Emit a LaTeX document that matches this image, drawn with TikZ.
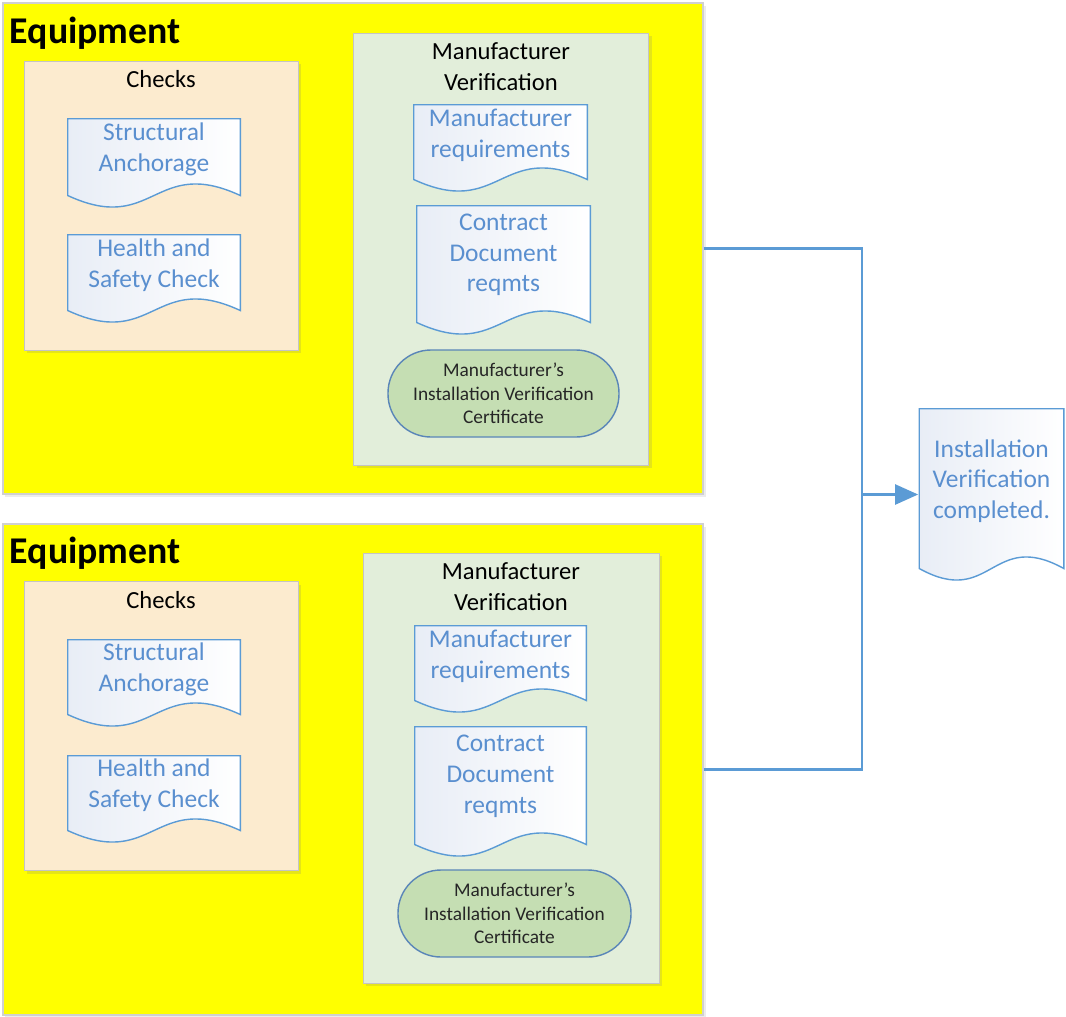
\documentclass[tikz,border=0pt]{standalone}
\usepackage{fontspec}
\setmainfont{Carlito}
\usepackage{tikz}
\usetikzlibrary{positioning, arrows.meta, calc, shadows}

\definecolor{eqyellow}{HTML}{FFFF00}
\definecolor{eqborder}{HTML}{D0D0D0}
\definecolor{boxborder}{HTML}{C4C4C4}
\definecolor{chkfill}{HTML}{FCEBCF}
\definecolor{mvfill}{HTML}{E2EEDA}
\definecolor{docblue}{HTML}{5B9BD5}
\definecolor{docink}{HTML}{5A8FCF}
\definecolor{docshade}{HTML}{E8EDF6}
\definecolor{certfill}{HTML}{C5DEB3}
\definecolor{certline}{HTML}{5A86B8}
\definecolor{connblue}{HTML}{5B9BD5}

\begin{document}
\begin{tikzpicture}[
    group/.style={rectangle, draw=eqborder, line width=0.6pt, fill=eqyellow, minimum width=14cm, minimum height=9.82cm, inner sep=0pt,
        drop shadow={opacity=0.15, shadow xshift=0.05cm, shadow yshift=-0.05cm}},
    panel/.style={rectangle, draw=boxborder, line width=0.5pt, fill=#1, inner sep=0pt,
        drop shadow={opacity=0.2, shadow xshift=0.06cm, shadow yshift=-0.06cm}},
    title/.style={font=\fontsize{21.5}{25}\selectfont\bfseries, inner sep=0pt, anchor=base west},
    head/.style={font=\fontsize{14}{17.5}\selectfont, align=center, inner sep=0pt},
    docshape/.style n args={2}{rectangle, minimum width=#1, minimum height=#2, inner sep=0pt,
        path picture={
            \path[left color=docshade, right color=white, draw=docblue, line width=0.8pt]
                ([shift={(0.4pt,-0.4pt)}]path picture bounding box.north west)
                -- ([shift={(-0.4pt,-0.4pt)}]path picture bounding box.north east)
                -- ([shift={(-0.4pt,0.25cm)}]path picture bounding box.south east)
                .. controls ([yshift=1.05cm]path picture bounding box.south)
                and ([yshift=-0.55cm]path picture bounding box.south) ..
                ([shift={(0.4pt,0.25cm)}]path picture bounding box.south west) -- cycle;
        }},
    doctext/.style={font=\fontsize{14.5}{17.5}\selectfont, text=docink, align=center, inner sep=0pt},
    cert/.style={rectangle, rounded corners=0.86cm, draw=certline, line width=0.8pt, fill=certfill,
        minimum width=4.62cm, minimum height=1.74cm, inner sep=0pt,
        font=\fontsize{11}{13.5}\selectfont, align=center, text=black!85},
    conn/.style={draw=connblue, line width=1.3pt},
    arr/.style={conn, -{Triangle[length=0.46cm, width=0.4cm]}},
]

\path[use as bounding box, fill=white] (0,0) rectangle (21.32,-20.34);

% Upper equipment group
\node[group] (eqA) at (7.06, -4.97) {};
\node[title] (eqAtitle) at (0.19, -0.86) {Equipment};

% Checks
\node[panel=chkfill, minimum width=5.48cm, minimum height=5.78cm] (chkA) at (3.22, -4.11) {};
\node[head, below=0.2cm of chkA.north] (chkAhead) {Checks};
\node[docshape={3.48cm}{1.8cm}] (structA) at (3.08, -3.26) {};
\node[doctext] (structAtxt) at ([yshift=0.27cm]structA.center) {Structural\\Anchorage};
\node[docshape={3.48cm}{1.78cm}] (healthA) at (3.08, -5.57) {};
\node[doctext] (healthAtxt) at ([yshift=0.27cm]healthA.center) {Health and\\Safety Check};

% Manufacturer verification
\node[panel=mvfill, minimum width=5.9cm, minimum height=8.64cm] (mvA) at (10.02, -4.98) {};
\node[head, below=0.2cm of mvA.north] (mvAhead) {Manufacturer\\Verification};
\node[docshape={3.5cm}{1.76cm}] (mreqA) at (10.01, -2.96) {};
\node[doctext] (mreqAtxt) at ([yshift=0.26cm]mreqA.center) {Manufacturer\\requirements};
\node[docshape={3.5cm}{2.6cm}] (contractA) at (10.07, -5.4) {};
\node[doctext] (contractAtxt) at ([yshift=0.3cm]contractA.center) {Contract\\Document\\reqmts};
\node[cert] (certA) at (10.07, -7.87) {Manufacturer's\\Installation Verification\\Certificate};

% Lower equipment group
\node[group] (eqB) at (7.06, -15.39) {};
\node[title] (eqBtitle) at (0.19, -11.26) {Equipment};

% Checks
\node[panel=chkfill, minimum width=5.48cm, minimum height=5.78cm] (chkB) at (3.22, -14.52) {};
\node[head, below=0.2cm of chkB.north] (chkBhead) {Checks};
\node[docshape={3.48cm}{1.76cm}] (structB) at (3.08, -13.66) {};
\node[doctext] (structBtxt) at ([yshift=0.27cm]structB.center) {Structural\\Anchorage};
\node[docshape={3.48cm}{1.76cm}] (healthB) at (3.08, -15.98) {};
\node[doctext] (healthBtxt) at ([yshift=0.27cm]healthB.center) {Health and\\Safety Check};

% Manufacturer verification
\node[panel=mvfill, minimum width=5.92cm, minimum height=8.6cm] (mvB) at (10.22, -15.36) {};
\node[head, below=0.2cm of mvB.north] (mvBhead) {Manufacturer\\Verification};
\node[docshape={3.46cm}{1.76cm}] (mreqB) at (10.01, -13.38) {};
\node[doctext] (mreqBtxt) at ([yshift=0.26cm]mreqB.center) {Manufacturer\\requirements};
\node[docshape={3.46cm}{2.62cm}] (contractB) at (10.01, -15.83) {};
\node[doctext] (contractBtxt) at ([yshift=0.3cm]contractB.center) {Contract\\Document\\reqmts};
\node[cert, minimum width=4.66cm] (certB) at (10.29, -18.27) {Manufacturer's\\Installation Verification\\Certificate};

% Result
\node[docshape={2.92cm}{3.46cm}] (done) at (19.83, -9.89) {};
\node[doctext] (donetxt) at ([yshift=0.27cm]done.center) {Installation\\Verification\\completed.};
\coordinate (join) at (17.24, -9.89);

% Connectors
\draw[conn] (eqA.east) -| (join);
\draw[conn] (eqB.east) -| (join);
\draw[arr] (join) -- (done.west);

\end{tikzpicture}
\end{document}
